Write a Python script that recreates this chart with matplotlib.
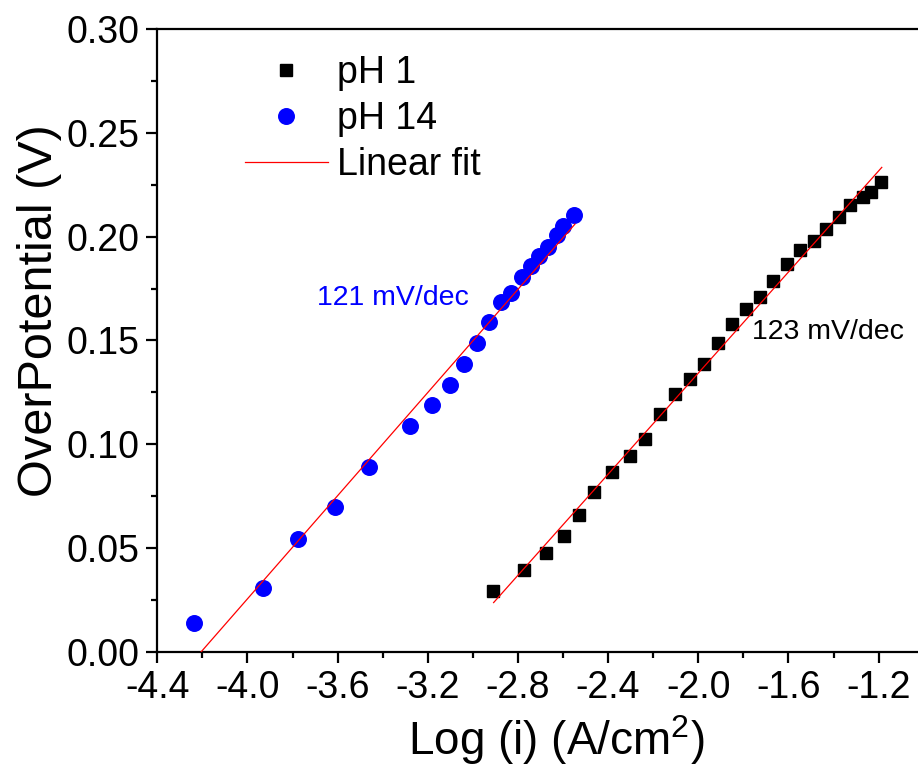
import numpy as np
import matplotlib
matplotlib.use("Agg")
import matplotlib.pyplot as plt
from matplotlib.ticker import MultipleLocator, FormatStrFormatter, FixedLocator

plt.rcParams['font.family'] = ['Liberation Sans', 'DejaVu Sans']
plt.rcParams['mathtext.fontset'] = 'custom'
plt.rcParams['mathtext.rm'] = 'Liberation Sans'
plt.rcParams['mathtext.it'] = 'Liberation Sans'
plt.rcParams['axes.unicode_minus'] = False

# pH 1 data
ph1_x = [-2.911, -2.772, -2.675, -2.597, -2.531, -2.462, -2.381, -2.304, -2.238,
         -2.172, -2.103, -2.037, -1.973, -1.911, -1.851, -1.789, -1.728, -1.667,
         -1.608, -1.547, -1.485, -1.432, -1.377, -1.326, -1.271, -1.233, -1.189]
ph1_y = [0.0296, 0.0397, 0.0479, 0.0560, 0.0659, 0.0772, 0.0865, 0.0945, 0.1026,
         0.1145, 0.1243, 0.1317, 0.1389, 0.1486, 0.1579, 0.1653, 0.1711, 0.1786,
         0.1868, 0.1936, 0.1979, 0.2035, 0.2097, 0.2153, 0.2191, 0.2217, 0.2264]

# pH 14 data
ph14_x = [-4.237, -3.929, -3.774, -3.610, -3.461, -3.277, -3.180, -3.102, -3.040,
          -2.981, -2.927, -2.875, -2.830, -2.783, -2.743, -2.705, -2.668, -2.628,
          -2.599, -2.550]
ph14_y = [0.0141, 0.0310, 0.0545, 0.0696, 0.0889, 0.1088, 0.1188, 0.1288, 0.1388,
          0.1487, 0.1587, 0.1687, 0.1727, 0.1807, 0.1859, 0.1907, 0.1952, 0.2006,
          0.2051, 0.2104]

# linear fits (slope, intercept) and x ranges
fit14_slope, fit14_icpt = 0.1242, 0.5224
fit14_range = [-4.237, -2.547]
fit1_slope, fit1_icpt = 0.1217, 0.3777
fit1_range = [-2.908, -1.186]

legend_labels = ["pH 1", "pH 14", "Linear fit"]
annot_14 = "121 mV/dec"
annot_1 = "123 mV/dec"

W, H = 918, 767
fig = plt.figure(figsize=(W / 100, H / 100), dpi=100)
ax = fig.add_axes([157.3 / W, (H - 652) / H, (923.7 - 157.3) / W, (652 - 29) / H])

ax.plot(ph1_x, ph1_y, 's', color='black', markersize=9.2, label=legend_labels[0], zorder=3)
ax.plot(ph14_x, ph14_y, 'o', color='#0000ff', markersize=11.2, label=legend_labels[1], zorder=3)

fx = np.array(fit14_range)
ax.plot(fx, fit14_slope * fx + fit14_icpt, '-', color='#ff0000', lw=0.9, label=legend_labels[2], zorder=4)
fx = np.array(fit1_range)
ax.plot(fx, fit1_slope * fx + fit1_icpt, '-', color='#ff0000', lw=0.9, zorder=4)

ax.text(-3.692, 0.1707, annot_14, color='#0000ff', fontsize=20.5, ha='left', va='center')
ax.text(-1.763, 0.1543, annot_1, color='black', fontsize=20.5, ha='left', va='center')

ax.set_xlim(-4.4, -1.0)
ax.set_ylim(0.0, 0.30)
ax.xaxis.set_major_locator(FixedLocator([-4.4, -4.0, -3.6, -3.2, -2.8, -2.4, -2.0, -1.6, -1.2]))
ax.xaxis.set_minor_locator(MultipleLocator(0.2))
ax.xaxis.set_major_formatter(FormatStrFormatter('%.1f'))
ax.yaxis.set_major_locator(MultipleLocator(0.05))
ax.yaxis.set_minor_locator(MultipleLocator(0.025))
ax.yaxis.set_major_formatter(FormatStrFormatter('%.2f'))

for s in ax.spines.values():
    s.set_linewidth(1.6)
ax.tick_params(which='major', direction='out', length=8, width=1.6, labelsize=27, pad=5)
ax.tick_params(which='minor', direction='out', length=4, width=1.6)

ax.set_xlabel('Log (i) (A/cm$^2$)', fontsize=33, labelpad=5)
ax.xaxis.label.set_x((556 - 157.3) / 766.4)
ax.set_ylabel('OverPotential (V)', fontsize=35, labelpad=3)
ax.yaxis.label.set_y((652 - 311) / 623)

leg = ax.legend(loc='upper left', bbox_to_anchor=(245 / W, 1 - 55 / H),
                bbox_transform=fig.transFigure, frameon=False, fontsize=27,
                borderpad=0, borderaxespad=0, handlelength=2.2, handletextpad=0.26,
                labelspacing=0.27, markerscale=1.0)

fig.savefig('out.png', dpi=100)
